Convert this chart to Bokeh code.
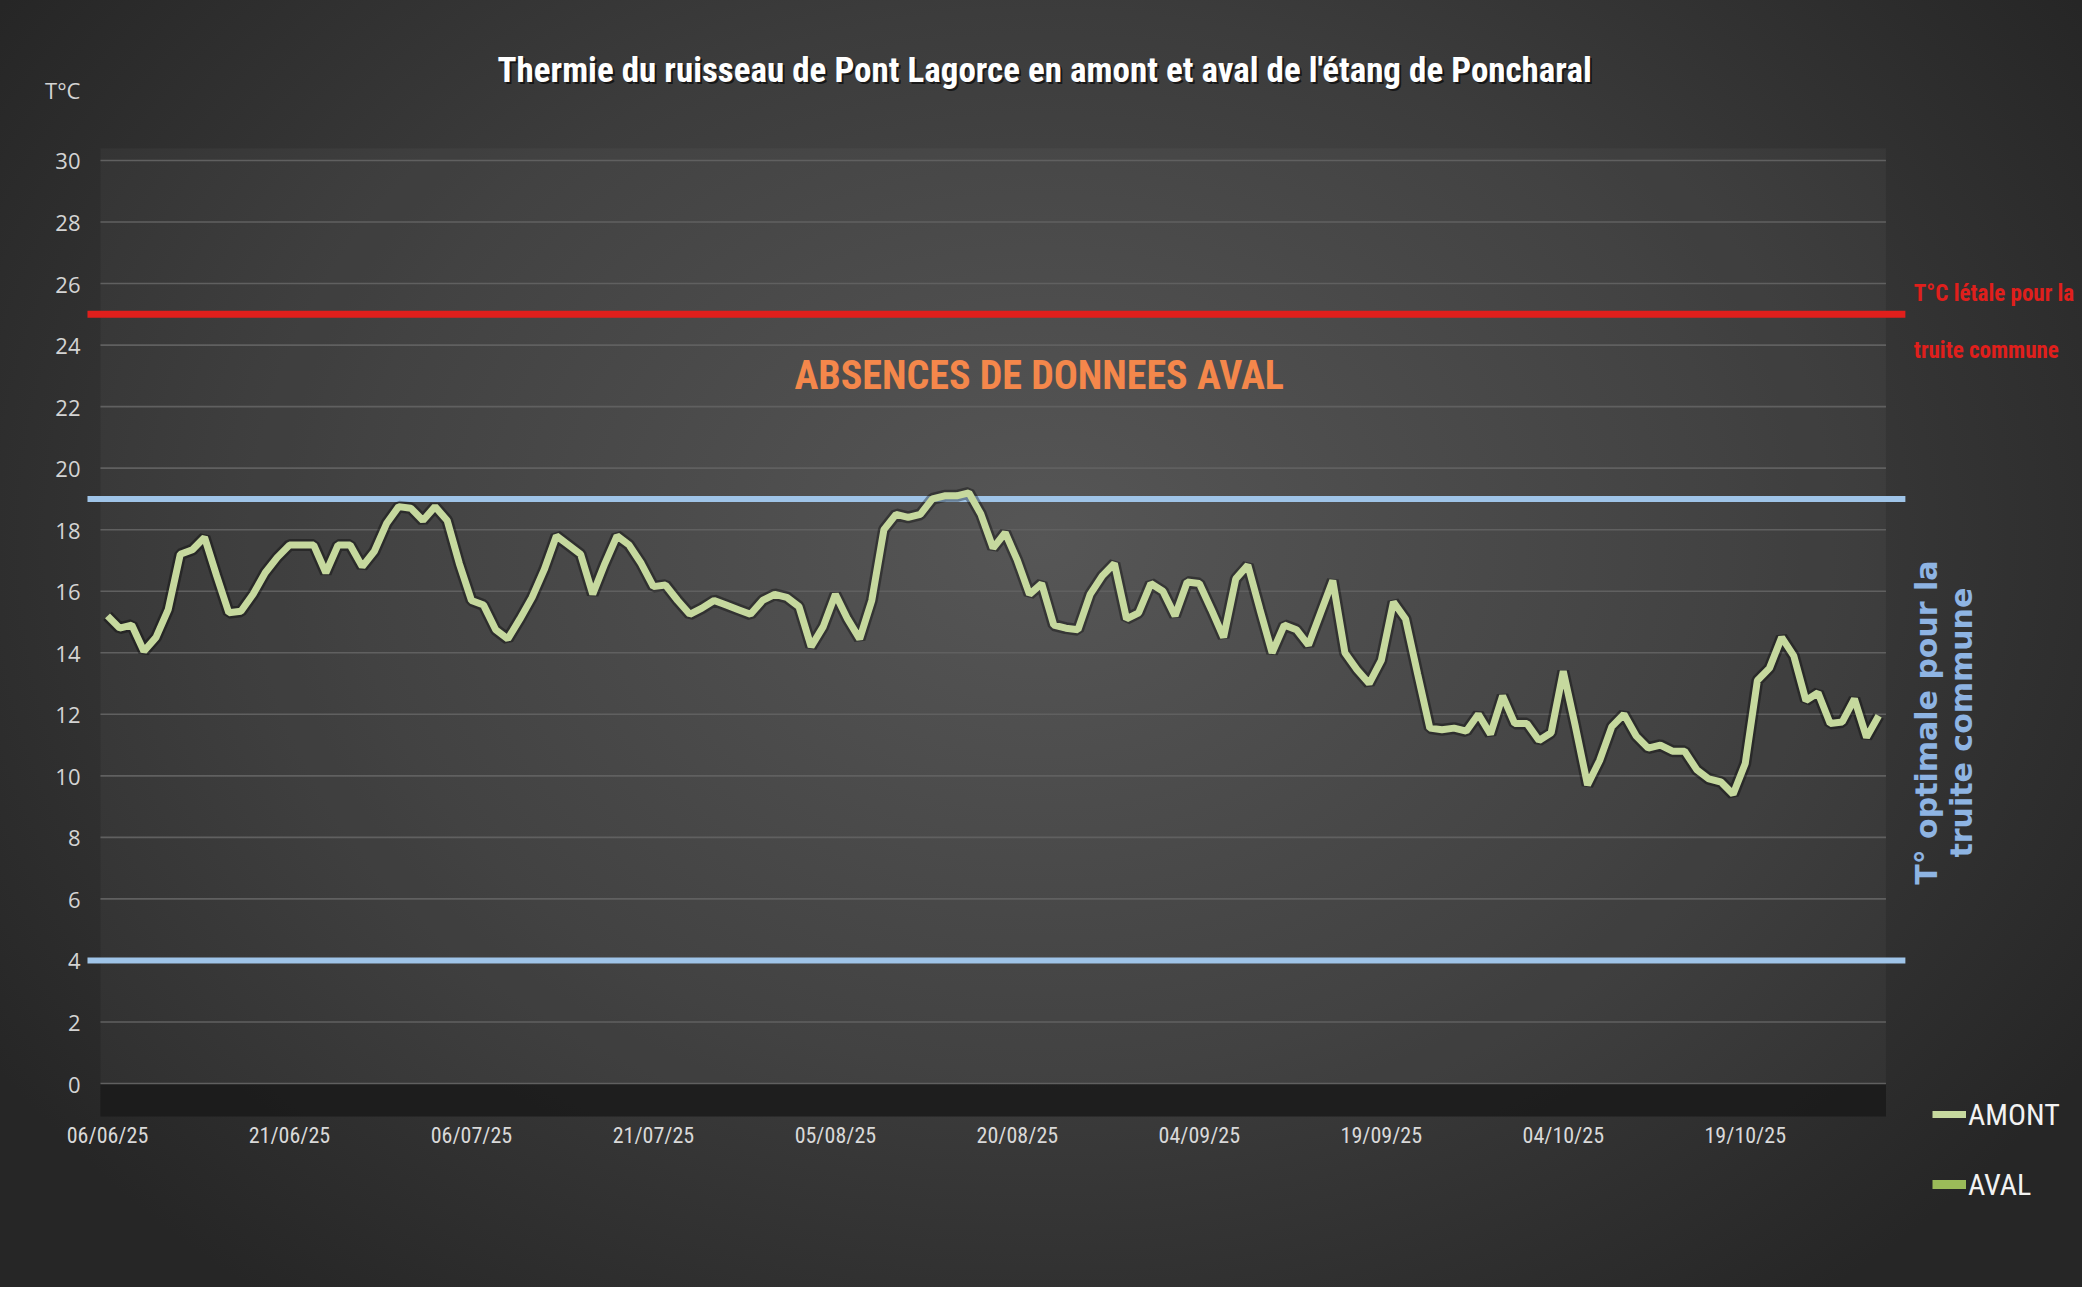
import pandas as pd
from bokeh.plotting import figure
from bokeh.models import (Range1d, FixedTicker, DatetimeTickFormatter, Label,
                          BoxAnnotation, Legend, LegendItem, ColumnDataSource)
from bokeh.embed import file_html
from bokeh.resources import INLINE

# ---------------- data ----------------
TITLE = "Thermie du ruisseau de Pont Lagorce en amont et aval de l'étang de Poncharal"
Y_UNIT = "T°C"
START_DATE = "2025-06-06"

# daily mean temperature upstream (AMONT), 06/06/25 -> 30/10/25
amont = [15.2, 14.8, 14.9, 14.05, 14.5, 15.4, 17.2, 17.35, 17.75, 16.5,
         15.3, 15.35, 15.9, 16.6, 17.1, 17.5, 17.5, 17.5, 16.6, 17.5,
         17.5, 16.8, 17.3, 18.2, 18.75, 18.7, 18.3, 18.75, 18.3, 16.9,
         15.7, 15.55, 14.75, 14.45, 15.1, 15.8, 16.7, 17.8, 17.5, 17.2,
         15.9, 16.9, 17.8, 17.5, 16.9, 16.15, 16.2, 15.7, 15.25, 15.45,
         15.7, 15.55, 15.4, 15.25, 15.7, 15.9, 15.8, 15.5, 14.2, 14.85,
         15.9, 15.1, 14.45, 15.7, 18.0, 18.5, 18.4, 18.5, 19.0, 19.1,
         19.1, 19.2, 18.5, 17.4, 17.9, 17.0, 15.9, 16.25, 14.9, 14.8,
         14.75, 15.9, 16.5, 16.9, 15.1, 15.3, 16.25, 16.0, 15.2, 16.3,
         16.25, 15.4, 14.5, 16.4, 16.85, 15.4, 14.0, 14.9, 14.75, 14.25,
         15.3, 16.35, 14.0, 13.45, 13.0, 13.75, 15.65, 15.1, 13.3, 11.55,
         11.5, 11.55, 11.45, 12.0, 11.35, 12.6, 11.7, 11.7, 11.15, 11.4,
         13.4, 11.6, 9.7, 10.5, 11.6, 12.0, 11.3, 10.9, 11.0, 10.8,
         10.8, 10.2, 9.9, 9.8, 9.4, 10.4, 13.1, 13.5, 14.5, 13.9,
         12.45, 12.7, 11.7, 11.75, 12.5, 11.25, 11.95]
# downstream (AVAL): no data recorded ("absences de données")
aval = [float("nan")]

x_tick_labels = ["06/06/25", "21/06/25", "06/07/25", "21/07/25", "05/08/25",
                 "20/08/25", "04/09/25", "19/09/25", "04/10/25", "19/10/25"]
y_ticks = [0, 2, 4, 6, 8, 10, 12, 14, 16, 18, 20, 22, 24, 26, 28, 30]

T_LETALE = 25          # lethal temperature for brown trout
T_OPT_MAX = 19         # optimal range for brown trout
T_OPT_MIN = 4

# ---------------- styling ----------------
NARROW = "Liberation Sans Narrow, Roboto Condensed, DejaVu Sans Condensed, sans-serif"
C_AMONT = "#c6d99e"
C_AVAL = "#9bbb59"
C_RED = "#e01f1c"
C_BLUE = "#9fc4e8"
C_ORANGE = "#f4874b"
UNIT_POS = 32.3        # vertical place of the "T°C" unit label
FLOOR = -1.07          # bottom of the dark floor band / x axis position


def ms(t):
    return pd.Timestamp(t).timestamp() * 1000.0


dates = pd.date_range(START_DATE, periods=len(amont), freq="D")
day = pd.Timedelta(days=1)
x_start = dates[0] - 8.82 * day
x_end = dates[-1] + 16.8 * day
axis_x = dates[0] - 1.65 * day      # where the value axis stands
plot_lo = dates[0] - 0.58 * day
plot_hi = dates[-1] + 0.6 * day
ref_hi = dates[-1] + 2.2 * day

p = figure(width=2082, height=1287, x_axis_type="datetime",
           x_range=Range1d(ms(x_start), ms(x_end)), y_range=Range1d(-6.63, 35.2),
           output_backend="svg", toolbar_location=None,
           min_border_left=0, min_border_right=0, min_border_top=0, min_border_bottom=0)
p.background_fill_alpha = 0
p.border_fill_alpha = 0
p.outline_line_color = None
p.styles = {"background": "radial-gradient(ellipse 60% 75% at 50% 42%, #505050 0%, #3c3c3c 55%, #262626 100%)"}

# axes
tick_dates = pd.to_datetime(x_tick_labels, format="%d/%m/%y")
p.xaxis.ticker = FixedTicker(ticks=[ms(d) for d in tick_dates])
fmt = "%d/%m/%y"
p.xaxis.formatter = DatetimeTickFormatter(microseconds=fmt, milliseconds=fmt, seconds=fmt,
                                          minsec=fmt, minutes=fmt, hourmin=fmt, hours=fmt,
                                          days=fmt, months=fmt, years=fmt)
p.xaxis.fixed_location = FLOOR
p.yaxis.fixed_location = ms(axis_x)
p.yaxis.ticker = FixedTicker(ticks=y_ticks + [UNIT_POS])
p.yaxis.major_label_overrides = {UNIT_POS: Y_UNIT}
for ax in (p.xaxis[0], p.yaxis[0]):
    ax.axis_line_color = None
    ax.major_tick_line_color = None
    ax.minor_tick_line_color = None
p.xaxis.major_label_text_font = NARROW
p.xaxis.major_label_text_font_size = "22px"
p.xaxis.major_label_text_color = "#d9d9d9"
p.xaxis.major_label_standoff = 1
p.yaxis.major_label_text_font = "Open Sans"
p.yaxis.major_label_text_font_size = "22px"
p.yaxis.major_label_text_color = "#d4d4d4"
p.yaxis.major_label_standoff = 1
p.grid.visible = False

# plot-area panel and floor
p.add_layout(BoxAnnotation(left=ms(plot_lo), right=ms(plot_hi), bottom=0, top=30.4,
                           fill_color="white", fill_alpha=0.035, line_color=None, level="underlay"))
p.add_layout(BoxAnnotation(left=ms(plot_lo), right=ms(plot_hi), top=0, bottom=FLOOR,
                           fill_color="#1a1a1a", fill_alpha=0.85, line_color=None, level="underlay"))

# gridlines
n = len(y_ticks)
p.segment(x0=[ms(plot_lo)] * n, y0=y_ticks, x1=[ms(plot_hi)] * n, y1=y_ticks,
          line_color="#606060", line_width=1.6)

# reference lines
p.segment(x0=[ms(axis_x)], y0=[T_LETALE], x1=[ms(ref_hi)], y1=[T_LETALE],
          line_color=C_RED, line_width=7)
p.segment(x0=[ms(axis_x)] * 2, y0=[T_OPT_MAX, T_OPT_MIN], x1=[ms(ref_hi)] * 2,
          y1=[T_OPT_MAX, T_OPT_MIN], line_color=C_BLUE, line_width=6)

# series
src = ColumnDataSource(dict(x=dates, y=amont))
p.line("x", "y", source=src, line_color="black", line_alpha=0.35, line_width=12)
r_amont = p.line("x", "y", source=src, line_color=C_AMONT, line_width=7)
r_aval = p.line(x=list(dates[:len(aval)]), y=aval, line_color=C_AVAL, line_width=9)

# title (drawn inside the frame, with a soft shadow)
title_x = ms(dates[0] + 77.25 * day)
p.add_layout(Label(x=title_x, y=32.92, x_offset=2, y_offset=-2, text=TITLE,
                   text_align="center", text_baseline="middle", text_font=NARROW,
                   text_font_style="bold", text_font_size="35px", text_color="black",
                   text_alpha=0.6))
p.add_layout(Label(x=title_x, y=32.92, text=TITLE, text_align="center",
                   text_baseline="middle", text_font=NARROW, text_font_style="bold",
                   text_font_size="35px", text_color="#ffffff"))

# annotations on the right
p.add_layout(Label(x=ms(dates[-1] + 2.9 * day), y=T_LETALE - 0.24,
                   text="T°C létale pour la\ntruite commune", text_align="left",
                   text_baseline="middle", text_font=NARROW, text_font_style="bold",
                   text_font_size="23px", text_line_height=2.1, text_color=C_RED))
p.add_layout(Label(x=ms(dates[-1] + 5.4 * day), y=11.73,
                   text="T° optimale pour la\ntruite commune", angle=1.5707963,
                   text_align="center", text_baseline="middle", text_font="DejaVu Sans",
                   text_font_style="bold", text_font_size="30px", text_line_height=1.0,
                   text_color="#8eb4e3"))
p.add_layout(Label(x=ms(dates[0] + 76.8 * day), y=23.0, text="ABSENCES DE DONNEES AVAL",
                   text_align="center", text_baseline="middle", text_font=NARROW,
                   text_font_style="bold", text_font_size="40px", text_color=C_ORANGE))

legend = Legend(items=[LegendItem(label="AMONT", renderers=[r_amont]),
                       LegendItem(label="AVAL", renderers=[r_aval])],
                location=(1932, 85), orientation="vertical",
                background_fill_alpha=0, border_line_color=None, padding=0, margin=0,
                spacing=34, glyph_width=34, glyph_height=36, label_height=36,
                label_standoff=2, label_text_font=NARROW, label_text_font_size="30px",
                label_text_color="#f2f2f2")
p.add_layout(legend)

open("out.html", "w").write(file_html(p, INLINE))
